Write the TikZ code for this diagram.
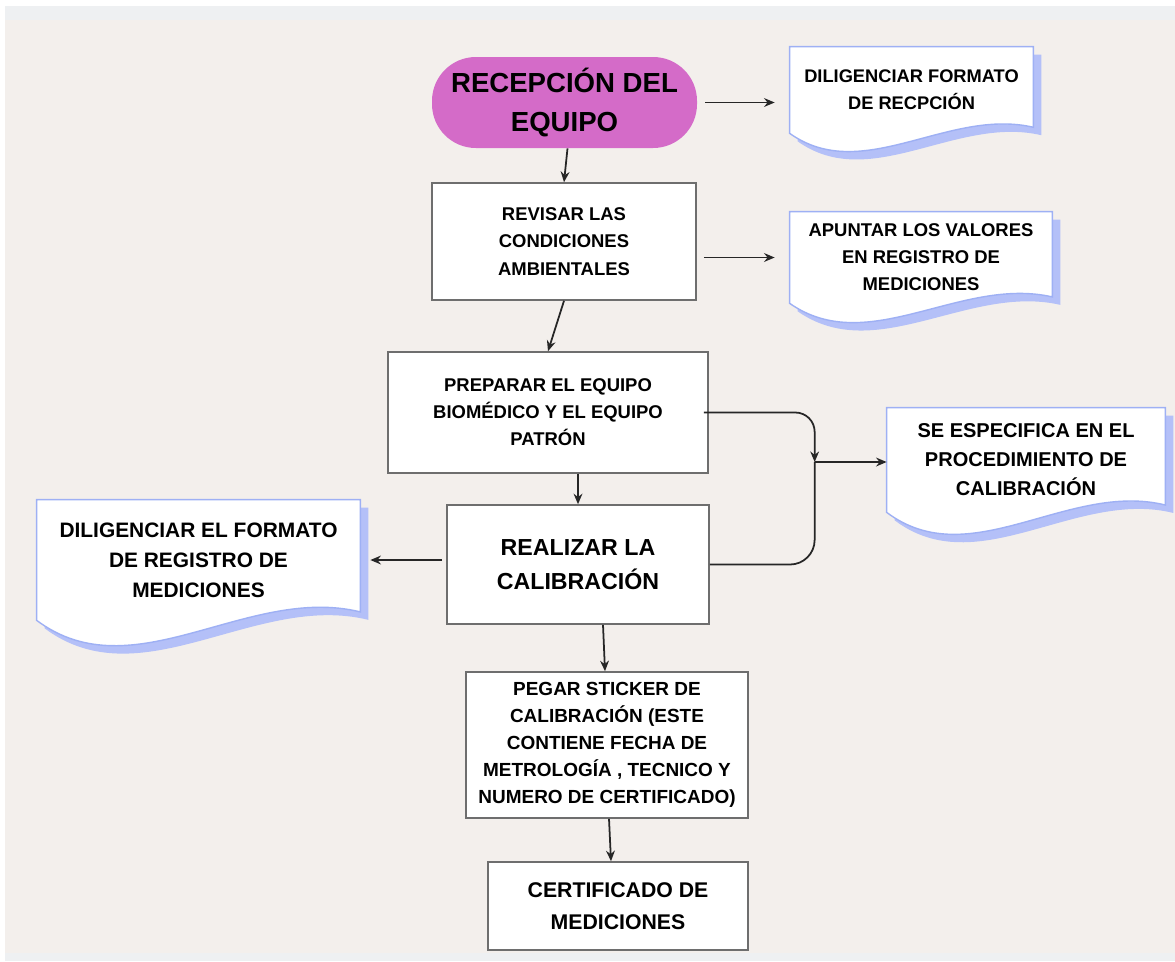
\documentclass[tikz,border=0pt]{standalone}
\usepackage{fontspec}
\setmainfont{Liberation Sans}
\usetikzlibrary{arrows.meta,calc,backgrounds}

\definecolor{paper}{HTML}{F3EFEC}
\definecolor{stripgray}{HTML}{EEF0F2}
\definecolor{startpink}{HTML}{D46BC8}
\definecolor{boxgray}{HTML}{6E6E6E}
\definecolor{docline}{HTML}{9EB0F4}
\definecolor{docshade}{HTML}{B4C0F8}

% one pixel of the layout grid
\newdimen\pxu \pxu=0.02cm
\newcommand{\fsz}[2]{\fontsize{#1}{#2}\selectfont\bfseries}

% wavy document sheet behind a node, with its shadow
\newcommand{\wavedoc}[1]{%
  \fill[docshade] let \p1=(#1.north west), \p2=(#1.south east),
      \n1={\x2-\x1}, \n2={\y1-\y2} in
    ({\x1+4.5pt},{\y1-4.5pt}) -- ({\x2+4.5pt},{\y1-4.5pt})
    -- ({\x2+4.5pt},{\y2+0.07*\n2-4.5pt})
    .. controls ({\x1+0.65*\n1+4.5pt},{\y2+0.3*\n2-4.5pt})
       and ({\x1+0.3*\n1+4.5pt},{\y2-0.6*\n2-4.5pt}) .. ({\x1+4.5pt},{\y2-4.5pt}) -- cycle;
  \filldraw[fill=white, draw=docline, line width=0.8pt]
      let \p1=(#1.north west), \p2=(#1.south east),
      \n1={\x2-\x1}, \n2={\y1-\y2} in
    (\x1,\y1) -- (\x2,\y1) -- (\x2,{\y2+0.07*\n2})
    .. controls ({\x1+0.65*\n1},{\y2+0.3*\n2})
       and ({\x1+0.3*\n1},{\y2-0.6*\n2}) .. (\x1,\y2) -- cycle;
}

\begin{document}
\begin{tikzpicture}[x=0.02cm, y=-0.02cm,
  procbox/.style={draw=boxgray, line width=0.9pt, fill=white, align=center, inner sep=1pt},
  docnode/.style={align=center, inner sep=0pt},
  arr/.style={-{Stealth[length=6pt,width=5pt]}, line width=1pt, draw=black!85}]

\begin{pgfonlayer}{background}
  \fill[white] (0,0) rectangle (1175,961);
  \fill[stripgray] (5,6) rectangle (1175,961);
  \fill[paper] (5,20) rectangle (1175,953);
\end{pgfonlayer}
\useasboundingbox (0,0) rectangle (1175,961);

% main column
\node[fill=startpink, rounded corners=25pt, minimum width=265\pxu, minimum height=91\pxu,
  align=center, font=\fsz{15.7}{22.2}] (start) at (564.5,102.5) {RECEPCIÓN DEL\\EQUIPO};
\node[procbox, minimum width=264\pxu, minimum height=117\pxu, font=\fsz{10.5}{15.6}]
  (box1) at (564,241.5) {REVISAR LAS\\CONDICIONES\\AMBIENTALES};
\node[procbox, minimum width=320\pxu, minimum height=121\pxu, font=\fsz{10.5}{15.4}]
  (box2) at (548,412.5) {PREPARAR EL EQUIPO\\BIOMÉDICO Y EL EQUIPO\\PATRÓN};
\node[procbox, minimum width=262\pxu, minimum height=119\pxu, font=\fsz{13.2}{19.3}]
  (box3) at (578,564.5) {REALIZAR LA\\CALIBRACIÓN};
\node[procbox, minimum width=282\pxu, minimum height=146\pxu, font=\fsz{10.8}{15.4}]
  (box4) at (607,745) {PEGAR STICKER DE\\CALIBRACIÓN (ESTE\\CONTIENE FECHA DE\\METROLOGÍA , TECNICO Y\\NUMERO DE CERTIFICADO)};
\node[procbox, minimum width=260\pxu, minimum height=88\pxu, font=\fsz{12.1}{18.2}]
  (box5) at (618,906) {CERTIFICADO DE\\MEDICIONES};

% side documents
\node[docnode, minimum width=243\pxu, minimum height=86\pxu, font=\fsz{10.4}{15.4}]
  (fmtrec) at (911.5,90) {DILIGENCIAR FORMATO\\DE RECPCIÓN};
\node[docnode, minimum width=262\pxu, minimum height=91\pxu, font=\fsz{10.5}{15.4}]
  (regmed) at (921,257.5) {APUNTAR LOS VALORES\\EN REGISTRO DE\\MEDICIONES};
\node[docnode, minimum width=278\pxu, minimum height=104\pxu, font=\fsz{11.4}{16.5}]
  (proc) at (1026,460) {SE ESPECIFICA EN EL\\PROCEDIMIENTO DE\\CALIBRACIÓN};
\node[docnode, minimum width=323\pxu, minimum height=120\pxu, font=\fsz{11.9}{17}]
  (regform) at (198.5,560) {DILIGENCIAR EL FORMATO\\DE REGISTRO DE\\MEDICIONES};

\begin{pgfonlayer}{background}
  \foreach \d in {fmtrec,regmed,proc,regform}{\wavedoc{\d}}
\end{pgfonlayer}

% flow
\draw[arr] ([shift={(3,0)}]start.south) -- (box1.north);
\draw[arr] (box1.south) -- (box2.north);
\draw[arr] (box3.north |- box2.south) -- (box3.north);
\draw[arr] ([shift={(-4,0)}]box4.north |- box3.south) -- ([shift={(-2,0)}]box4.north);
\draw[arr] ([shift={(2,0)}]box4.south) -- ([shift={(-7,0)}]box5.north);

% to the documents
\draw[arr] ([shift={(8,0)}]start.east) -- ([shift={(-15,0)}]fmtrec.west |- start.east);
\draw[arr] ([shift={(7,0)}]box1.east |- regmed.west) -- ([shift={(-15,0)}]regmed.west);
\draw[arr] ([shift={(-4,0)}]box3.west |- regform.east) -- ([shift={(10,0)}]regform.east);

% both steps meet before the procedure
\coordinate (join) at ([shift={(-72,2)}]proc.west);
\draw[arr, rounded corners=11pt] ([shift={(-5,0)}]box2.east) -| (join);
\draw[line width=1pt, draw=black!85, rounded corners=14pt] (box3.east) -| (join);
\draw[arr] (join) -- (proc.west |- join);
\end{tikzpicture}
\end{document}
